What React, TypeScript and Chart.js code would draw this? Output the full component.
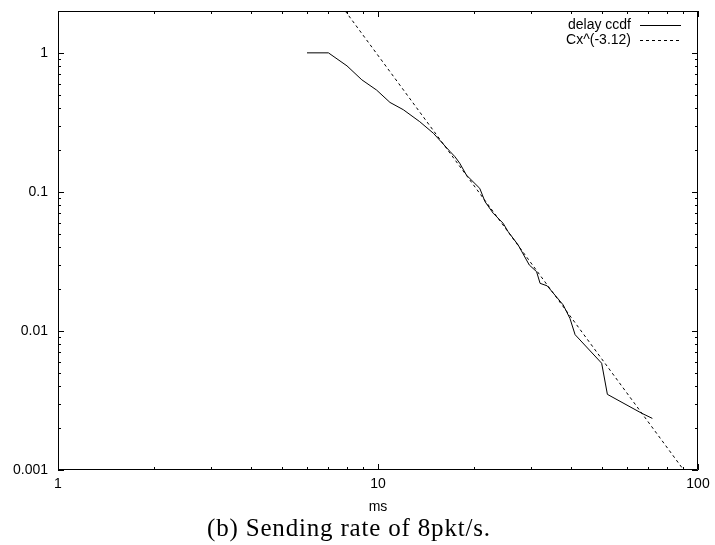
import React, { useEffect, useRef } from "react";
import { Chart, registerables } from "chart.js";
Chart.register(...registerables);

// delay ccdf (measured)
const ccdfX = [6, 7, 8, 8.9, 9.9, 10.9, 12, 13.5, 14.9, 16.8, 17.4, 18, 18.9, 20.8, 21.6, 22.9, 24.6, 25.5, 27.4, 29.7, 31.3, 32.1, 33.8, 35.3, 37.9, 39.8, 41.3, 50, 52.1, 66.7, 72];
const ccdfY = [1, 1, 0.806, 0.64, 0.54, 0.44, 0.39, 0.32, 0.264, 0.195, 0.179, 0.161, 0.132, 0.106, 0.0851, 0.0703, 0.0595, 0.0518, 0.0416, 0.0298, 0.0267, 0.022, 0.0211, 0.0187, 0.0154, 0.0123, 0.0094, 0.00586, 0.0035, 0.00256, 0.00235];
// power-law fit Cx^(-3.12), end points
const fitX = [7.9, 90.2];
const fitY = [2.0, 0.001];

const xTickValues = [1, 10, 100];
const xTickLabels = ["1", "10", "100"];
const yTickValues = [0.001, 0.01, 0.1, 1];
const yTickLabels = ["0.001", "0.01", "0.1", "1"];
const xMinorTicks = [2, 3, 4, 5, 6, 7, 8, 9, 20, 30, 40, 50, 60, 70, 80, 90];
const yMinorTicks = [0.002, 0.003, 0.004, 0.005, 0.006, 0.007, 0.008, 0.009, 0.02, 0.03, 0.04, 0.05, 0.06, 0.07, 0.08, 0.09, 0.2, 0.3, 0.4, 0.5, 0.6, 0.7, 0.8, 0.9, 2];

const seriesLabels = ["delay ccdf", "Cx^(-3.12)"];
const xTitle = "ms";
const caption = "(b) Sending rate of 8pkt/s.";

const SANS = "'Liberation Sans', Arial, sans-serif";

const framePlugin = {
  id: "gnuplotFrame",
  afterDraw(chart: any) {
    const { ctx, chartArea, scales } = chart;
    const { left, right, top, bottom } = chartArea;
    const xs = scales.x;
    const ys = scales.y;
    ctx.save();
    ctx.strokeStyle = "#000";
    ctx.lineWidth = 1;
    ctx.beginPath();
    ctx.rect(Math.round(left) + 0.5, Math.round(top) + 0.5, Math.round(right - left) - 1, Math.round(bottom - top) - 1);
    ctx.stroke();
    const drawX = (v: number, len: number) => {
      const px = Math.round(xs.getPixelForValue(v)) + 0.5;
      ctx.beginPath();
      ctx.moveTo(px, bottom);
      ctx.lineTo(px, bottom - len);
      ctx.moveTo(px, top);
      ctx.lineTo(px, top + len);
      ctx.stroke();
    };
    const drawY = (v: number, len: number) => {
      const py = Math.round(ys.getPixelForValue(v)) + 0.5;
      ctx.beginPath();
      ctx.moveTo(left, py);
      ctx.lineTo(left + len, py);
      ctx.moveTo(right, py);
      ctx.lineTo(right - len, py);
      ctx.stroke();
    };
    xTickValues.forEach((v) => drawX(v, 6));
    xMinorTicks.forEach((v) => drawX(v, 3));
    yTickValues.forEach((v) => drawY(v, 6));
    yMinorTicks.forEach((v) => drawY(v, 3));

    // legend (gnuplot style, top right)
    ctx.font = `14px ${SANS}`;
    ctx.fillStyle = "#000";
    ctx.textAlign = "right";
    ctx.textBaseline = "middle";
    const rows = [25, 40];
    chart.data.datasets.forEach((ds: any, i: number) => {
      const y = rows[i];
      ctx.fillText(ds.label, 631, y);
      ctx.save();
      ctx.strokeStyle = ds.borderColor;
      ctx.lineWidth = ds.borderWidth;
      ctx.setLineDash(ds.borderDash || []);
      ctx.beginPath();
      ctx.moveTo(640, y + 0.5);
      ctx.lineTo(681, y + 0.5);
      ctx.stroke();
      ctx.restore();
    });

    // caption under the figure
    ctx.font = `25px 'Liberation Serif', 'DejaVu Serif', serif`;
    ctx.textAlign = "left";
    ctx.textBaseline = "alphabetic";
    const targetW = 283;
    const w0 = ctx.measureText(caption).width;
    const ls = (targetW - w0) / (caption.length - 1);
    (ctx as any).letterSpacing = `${ls.toFixed(2)}px`;
    ctx.fillText(caption, 207, 536);
    ctx.restore();
  },
};

export default function App() {
  const ref = useRef<HTMLCanvasElement | null>(null);
  useEffect(() => {
    if (!ref.current) return;
    const chart = new Chart(ref.current, {
      type: "line",
      data: {
        datasets: [
          {
            label: seriesLabels[0],
            data: ccdfX.map((x, i) => ({ x, y: ccdfY[i] })),
            borderColor: "#000",
            borderWidth: 1,
            pointRadius: 0,
            tension: 0,
            fill: false,
          },
          {
            label: seriesLabels[1],
            data: fitX.map((x, i) => ({ x, y: fitY[i] })),
            borderColor: "#000",
            borderWidth: 1,
            borderDash: [3, 3],
            pointRadius: 0,
            tension: 0,
            fill: false,
          },
        ],
      },
      options: {
        animation: false,
        responsive: false,
        devicePixelRatio: 1,
        layout: { padding: { left: 0, top: 11, right: 17, bottom: 0 } },
        plugins: { legend: { display: false }, tooltip: { enabled: false }, title: { display: false } },
        scales: {
          x: {
            type: "logarithmic",
            min: 1,
            max: 100,
            grid: { display: false, drawTicks: false },
            border: { display: false },
            afterBuildTicks: (s: any) => {
              s.ticks = xTickValues.map((v) => ({ value: v }));
            },
            afterFit: (s: any) => {
              s.height = 75;
              s.paddingLeft = 0;
              s.paddingRight = 0;
              s.paddingTop = 0;
              s.paddingBottom = 0;
            },
            ticks: {
              autoSkip: false,
              maxRotation: 0,
              padding: 6,
              color: "#000",
              font: { family: SANS, size: 14 },
              callback: (v: any, i: number) => xTickLabels[i],
            },
            title: {
              display: true,
              text: xTitle,
              color: "#000",
              font: { family: SANS, size: 14 },
              padding: { top: 0, bottom: 29.6 },
            },
          },
          y: {
            type: "logarithmic",
            min: 0.001,
            max: 2,
            grid: { display: false, drawTicks: false },
            border: { display: false },
            afterBuildTicks: (s: any) => {
              s.ticks = yTickValues.map((v) => ({ value: v }));
            },
            afterFit: (s: any) => {
              s.width = 58;
              s.paddingLeft = 0;
              s.paddingRight = 0;
              s.paddingTop = 0;
              s.paddingBottom = 0;
            },
            ticks: {
              autoSkip: false,
              padding: 10,
              color: "#000",
              font: { family: SANS, size: 14 },
              callback: (v: any, i: number) => yTickLabels[i],
            },
          },
        },
      },
      plugins: [framePlugin],
    } as any);
    return () => chart.destroy();
  }, []);
  return (
    <div style={{ position: "fixed", left: 0, top: 0, width: 715, height: 545, background: "#fff" }}>
      <canvas ref={ref} width={715} height={545} />
    </div>
  );
}
